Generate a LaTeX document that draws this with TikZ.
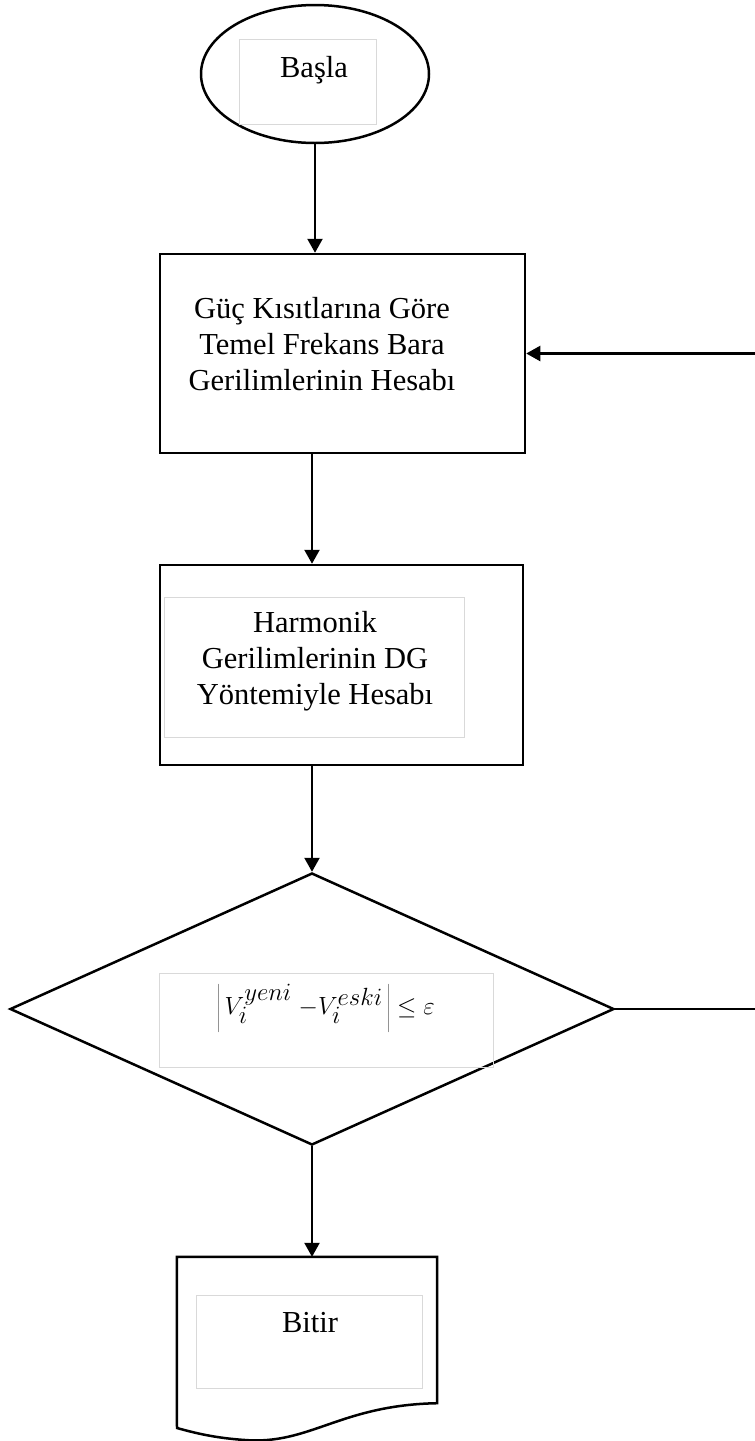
\documentclass[tikz,border=0pt]{standalone}
\usepackage{fontspec}
\setmainfont{Liberation Serif}
\usetikzlibrary{arrows.meta,shapes.geometric}
\tikzset{
  box/.style={draw, line width=2.5pt, inner sep=0pt},
  inbox/.style={draw=gray!30, line width=0.8pt, inner sep=0pt},
  txt/.style={align=center, font=\fontsize{30.5}{36}\selectfont, inner sep=0pt},
  arr/.style={line width=2.3pt, -{Triangle[length=14pt,width=15pt]}},
  ln/.style={line width=2.5pt}
}
\begin{document}
\begin{tikzpicture}[x=1pt,y=-1pt]
\useasboundingbox (0,0) rectangle (755,1441);
% start
\node[box, ellipse, minimum width=228pt, minimum height=138pt] (start) at (315,74) {};
\node[inbox, minimum width=137pt, minimum height=85pt] (startin) at (307.5,81.5) {};
\node[txt] (starttxt) at (314,70) {Başla};
% rect 1
\node[box, minimum width=365pt, minimum height=199pt] (r1) at (342.5,353.5) {};
\node[txt] (r1txt) at (322,344) {Güç Kısıtlarına Göre\\Temel Frekans Bara\\Gerilimlerinin Hesabı};
% rect 2
\node[box, minimum width=363pt, minimum height=200pt] (r2) at (341.5,665) {};
\node[inbox, minimum width=300pt, minimum height=140pt] (r2in) at (314,667) {};
\node[txt] (r2txt) at (315,661) {Harmonik\\Gerilimlerinin DG\\Yöntemiyle Hesabı};
% diamond
\node[box, diamond, minimum width=604pt, minimum height=272pt] (dia) at (312,1009) {};
\node[inbox, minimum width=334pt, minimum height=94pt] (diain) at (326,1020) {};
\node[txt, font=\fontsize{38}{44}\selectfont] (diatxt) at (326,1008) {$\left|\,V_i^{yeni}\;{-}V_i^{eski}\,\right|\le\varepsilon$};
% document (end)
\node[inner sep=0pt, minimum width=260pt, minimum height=146pt] (stop) at (307,1330) {};
\draw[ln, line join=miter] (stop.north west) -- (stop.north east) -- (stop.south east)
  .. controls (340,1405) and (310,1445) .. (245,1440)
  .. controls (215,1438) and (195,1433) .. (177,1428) -- cycle;
\node[inbox, minimum width=226pt, minimum height=93pt] (stopin) at (309,1341.5) {};
\node[txt] (stoptxt) at (310,1323) {Bitir};
% connectors
\coordinate (fbk) at (758,353.5);
\draw[arr] (start.south) -- (start.south |- r1.north);
\draw[arr] (dia.north |- r1.south) -- (dia.north |- r2.north);
\draw[arr] (dia.north |- r2.south) -- (dia.north);
\draw[arr] (dia.south) -- (dia.south |- stop.north);
\draw[arr] (dia.east) -- (dia.east -| fbk) -- (fbk) -- (r1.east);
\end{tikzpicture}
\end{document}
